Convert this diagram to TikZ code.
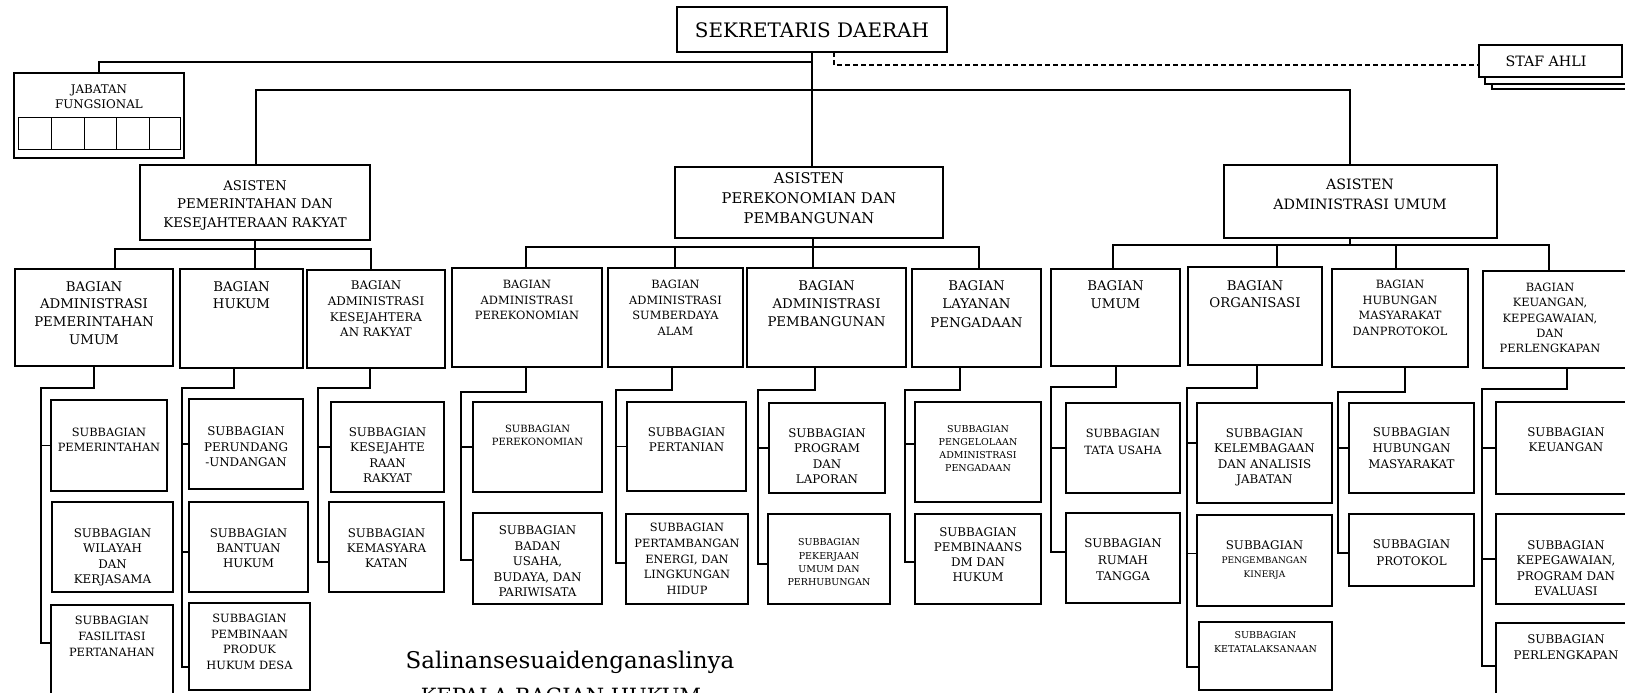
\documentclass[tikz,border=0pt]{standalone}
\usepackage{fontspec}
\setmainfont{DejaVu Serif}
\tikzset{
  bx/.style={draw, line width=1.6pt, rectangle, inner sep=0pt, outer sep=0pt},
  ln/.style={line width=1.6pt, line join=miter},
  dsh/.style={line width=1.2pt, dash pattern=on 5pt off 3pt},
  tx/.style={align=center, inner sep=0pt, anchor=north},
  cell/.style={line width=1pt},
}
\newcommand\mybox[5]{\node[bx, minimum width={(#4-#2)*1pt}, minimum height={(#5-#3)*1pt}] (#1) at ({(#2+#4)/2},{(#3+#5)/2}) {};}
\newcommand\mytext[6]{\pgfmathsetmacro\myfs{#4*0.95}\pgfmathsetmacro\myty{#3-0.365*\myfs}\node[tx,font=\fontsize{\myfs}{#5}\selectfont] (#1) at (#2,\myty) {#6};}
\newcommand\myspine[6]{%
  \coordinate (#1-k) at (#2,#3); \coordinate (#1-s) at (#4,#3); \coordinate (#1-e) at (#4,#6);
  \draw[ln] (#1-k |- #1.south) -- (#1-k) -- (#1-s) -- (#1-e) -- (#5.west |- #1-e);}
\newcommand\mytick[2]{\draw[ln] (#2.west) -- (#2.west -| #1-s);}
\begin{document}
\begin{tikzpicture}[x=1pt,y=-1pt]
\useasboundingbox (0,0) rectangle (1625,693);
\fill[white] (0,0) rectangle (1625,693);

% ---------- top level
\mybox{sek}{677}{7}{947}{52}
\mytext{sekt}{812}{30}{21}{22}{SEKRETARIS DAERAH}
\mybox{staf}{1479}{45}{1622}{77}
\mytext{staft}{1546}{61}{15}{17}{STAF AHLI}
\draw[ln] (1485,77) -- (1485,84) -- (1640,84);
\draw[ln] (1492,84) -- (1492,89) -- (1640,89);

\mybox{jab}{14}{73}{184}{158}
\mytext{jabt}{99}{89}{12.5}{15}{JABATAN\\FUNGSIONAL}
\draw[cell] (18,117) rectangle (180,149);
\foreach \cx in {51,84,116,149} \draw[cell] (\cx,117) -- (\cx,149);

\mybox{asP}{140}{165}{370}{240}
\mytext{asPt}{255}{185}{14}{18.5}{ASISTEN\\PEMERINTAHAN DAN\\KESEJAHTERAAN RAKYAT}
\mybox{asE}{675}{167}{943}{238}
\mytext{asEt}{809}{178}{15.5}{20}{ASISTEN\\PEREKONOMIAN DAN\\PEMBANGUNAN}
\mybox{asA}{1224}{165}{1497}{238}
\mytext{asAt}{1360}{184}{15}{20}{ASISTEN\\ADMINISTRASI UMUM}

% top connectors
\coordinate (trunk) at (812,62);
\draw[ln] (jab.north) -- (jab.north |- trunk) -- (trunk);
\draw[ln] (trunk |- sek.south) -- (trunk |- asE.north);
\coordinate (aL) at (256,90); \coordinate (aR) at (1350,90);
\draw[ln] (aL |- asP.north) -- (aL) -- (aR) -- (aR |- asA.north);
\coordinate (dsA) at (834,65);
\draw[dsh] (dsA |- sek.south) -- (dsA) -- (dsA -| staf.west);

% ---------- bagian row
\mybox{bL1}{15}{269}{173}{366}
\mytext{bL1t}{94}{286}{14}{17.7}{BAGIAN\\ADMINISTRASI\\PEMERINTAHAN\\UMUM}
\mybox{bL2}{180}{269}{303}{368}
\mytext{bL2t}{241.5}{286}{14}{17}{BAGIAN\\HUKUM}
\mybox{bL3}{307}{270}{445}{368}
\mytext{bL3t}{376}{285}{12.5}{15.7}{BAGIAN\\ADMINISTRASI\\KESEJAHTERA\\AN RAKYAT}

\mybox{bM1}{452}{268}{602}{367}
\mytext{bM1t}{527}{284}{12}{15.5}{BAGIAN\\ADMINISTRASI\\PEREKONOMIAN}
\mybox{bM2}{608}{268}{743}{367}
\mytext{bM2t}{675.5}{284}{12}{15.7}{BAGIAN\\ADMINISTRASI\\SUMBERDAYA\\ALAM}
\mybox{bM3}{747}{268}{906}{367}
\mytext{bM3t}{826.5}{285}{14}{18}{BAGIAN\\ADMINISTRASI\\PEMBANGUNAN}
\mybox{bM4}{912}{269}{1041}{367}
\mytext{bM4t}{976.5}{285}{14}{18.5}{BAGIAN\\LAYANAN\\PENGADAAN}

\mybox{bR1}{1051}{269}{1180}{366}
\mytext{bR1t}{1115.5}{285}{14}{18}{BAGIAN\\UMUM}
\mybox{bR2}{1188}{267}{1322}{365}
\mytext{bR2t}{1255}{285}{14}{17}{BAGIAN\\ORGANISASI}
\mybox{bR3}{1332}{269}{1468}{367}
\mytext{bR3t}{1400}{284}{12}{15.7}{BAGIAN\\HUBUNGAN\\MASYARAKAT\\DANPROTOKOL}
\mybox{bR4}{1483}{271}{1640}{368}
\mytext{bR4t}{1550}{287}{12}{15.3}{BAGIAN\\KEUANGAN,\\KEPEGAWAIAN,\\DAN\\PERLENGKAPAN}

% bus connectors
\coordinate (bl1) at (115,249); \coordinate (bl2) at (255,249); \coordinate (bl3) at (371,249);
\draw[ln] (bl1 |- bL1.north) -- (bl1) -- (bl3) -- (bl3 |- bL3.north);
\draw[ln] (bl2 |- asP.south) -- (bl2 |- bL2.north);
\coordinate (bm1) at (526,247); \coordinate (bm2) at (675,247); \coordinate (bm3) at (813,247); \coordinate (bm4) at (979,247);
\draw[ln] (bm1 |- bM1.north) -- (bm1) -- (bm4) -- (bm4 |- bM4.north);
\draw[ln] (bm2) -- (bm2 |- bM2.north);
\draw[ln] (bm3 |- asE.south) -- (bm3 |- bM3.north);
\coordinate (br1) at (1113,245); \coordinate (br2) at (1277,245); \coordinate (br3) at (1396,245); \coordinate (br4) at (1549,245); \coordinate (bra) at (1350,245);
\draw[ln] (br1 |- bR1.north) -- (br1) -- (br4) -- (br4 |- bR4.north);
\draw[ln] (br2) -- (br2 |- bR2.north);
\draw[ln] (br3) -- (br3 |- bR3.north);
\draw[ln] (bra |- asA.south) -- (bra);

% ---------- subbagian boxes
\mybox{sL1a}{51}{400}{167}{491}
\mytext{sL1at}{109}{432}{12}{15}{SUBBAGIAN\\PEMERINTAHAN}
\mybox{sL1b}{52}{502}{173}{592}
\mytext{sL1bt}{112.5}{533}{12.5}{15.3}{SUBBAGIAN\\WILAYAH\\DAN\\KERJASAMA}
\mybox{sL1c}{51}{605}{173}{710}
\mytext{sL1ct}{112}{620}{12}{16}{SUBBAGIAN\\FASILITASI\\PERTANAHAN}

\mybox{sL2a}{189}{399}{303}{489}
\mytext{sL2at}{246}{431}{12.5}{15.5}{SUBBAGIAN\\PERUNDANG\\-UNDANGAN}
\mybox{sL2b}{189}{502}{308}{592}
\mytext{sL2bt}{248.5}{533}{12.5}{15}{SUBBAGIAN\\BANTUAN\\HUKUM}
\mybox{sL2c}{189}{603}{310}{690}
\mytext{sL2ct}{249.5}{618}{12}{15.7}{SUBBAGIAN\\PEMBINAAN\\PRODUK\\HUKUM DESA}

\mybox{sL3a}{331}{402}{444}{492}
\mytext{sL3at}{387.5}{432}{12.5}{15.3}{SUBBAGIAN\\KESEJAHTE\\RAAN\\RAKYAT}
\mybox{sL3b}{329}{502}{444}{592}
\mytext{sL3bt}{386.5}{533}{12.5}{15}{SUBBAGIAN\\KEMASYARA\\KATAN}

\mybox{sM1a}{473}{402}{602}{492}
\mytext{sM1at}{537.5}{429}{10.5}{13}{SUBBAGIAN\\PEREKONOMIAN}
\mybox{sM1b}{473}{513}{602}{604}
\mytext{sM1bt}{537.5}{530}{12.5}{15.5}{SUBBAGIAN\\BADAN\\USAHA,\\BUDAYA, DAN\\PARIWISATA}
\mybox{sM2a}{627}{402}{746}{491}
\mytext{sM2at}{686.5}{432}{12.5}{15}{SUBBAGIAN\\PERTANIAN}
\mybox{sM2b}{626}{514}{748}{604}
\mytext{sM2bt}{687}{527}{12}{15.75}{SUBBAGIAN\\PERTAMBANGAN\\ENERGI, DAN\\LINGKUNGAN\\HIDUP}
\mybox{sM3a}{769}{403}{885}{493}
\mytext{sM3at}{827}{433}{12.5}{15.3}{SUBBAGIAN\\PROGRAM\\DAN\\LAPORAN}
\mybox{sM3b}{768}{514}{890}{604}
\mytext{sM3bt}{829}{542}{10}{13.3}{SUBBAGIAN\\PEKERJAAN\\UMUM DAN\\PERHUBUNGAN}
\mybox{sM4a}{915}{402}{1041}{502}
\mytext{sM4at}{978}{429}{10}{13}{SUBBAGIAN\\PENGELOLAAN\\ADMINISTRASI\\PENGADAAN}
\mybox{sM4b}{915}{514}{1041}{604}
\mytext{sM4bt}{978}{532}{12.5}{15}{SUBBAGIAN\\PEMBINAANS\\DM DAN\\HUKUM}

\mybox{sR1a}{1066}{403}{1180}{493}
\mytext{sR1at}{1123}{433}{12}{17}{SUBBAGIAN\\TATA USAHA}
\mybox{sR1b}{1066}{513}{1180}{603}
\mytext{sR1bt}{1123}{543}{12.5}{16.5}{SUBBAGIAN\\RUMAH\\TANGGA}
\mybox{sR2a}{1197}{403}{1332}{503}
\mytext{sR2at}{1264.5}{433}{12.5}{15.3}{SUBBAGIAN\\KELEMBAGAAN\\DAN ANALISIS\\JABATAN}
\mybox{sR2b}{1197}{515}{1332}{606}
\mytext{sR2bt}{1264.5}{545}{12.5}{14}{SUBBAGIAN\\{\fontsize{9}{13}\selectfont PENGEMBANGAN}\\{\fontsize{9}{13}\selectfont KINERJA}}
\mybox{sR2c}{1199}{622}{1332}{690}
\mytext{sR2ct}{1265.5}{635}{10}{14}{SUBBAGIAN\\KETATALAKSANAAN}
\mybox{sR3a}{1349}{403}{1474}{493}
\mytext{sR3at}{1411.5}{432}{12.5}{16}{SUBBAGIAN\\HUBUNGAN\\MASYARAKAT}
\mybox{sR3b}{1349}{514}{1474}{586}
\mytext{sR3bt}{1411.5}{544}{12.5}{17}{SUBBAGIAN\\PROTOKOL}
\mybox{sR4a}{1496}{402}{1640}{494}
\mytext{sR4at}{1566}{432}{12.5}{15}{SUBBAGIAN\\KEUANGAN}
\mybox{sR4b}{1496}{514}{1640}{604}
\mytext{sR4bt}{1566}{545}{12.5}{15.3}{SUBBAGIAN\\KEPEGAWAIAN,\\PROGRAM DAN\\EVALUASI}
\mybox{sR4c}{1496}{623}{1640}{710}
\mytext{sR4ct}{1566}{639}{12.5}{16}{SUBBAGIAN\\PERLENGKAPAN}

% ---------- spines
\myspine{bL1}{94}{388}{41}{sL1c}{643}
\mytick{bL1}{sL1a}
\myspine{bL2}{234}{388}{182}{sL2c}{667}
\mytick{bL2}{sL2a}
\draw[ln] ([yshift=-5pt]sL2b.west) -- ([yshift=-5pt]sL2b.west -| bL2-s);
\myspine{bL3}{370}{388}{318}{sL3b}{562}
\mytick{bL3}{sL3a}

\myspine{bM1}{526}{392}{461}{sM1b}{560}
\mytick{bM1}{sM1a}
\myspine{bM2}{672}{390}{616}{sM2b}{563}
\mytick{bM2}{sM2a}
\myspine{bM3}{815}{390}{758}{sM3b}{564}
\mytick{bM3}{sM3a}
\myspine{bM4}{960}{390}{905}{sM4b}{562}
\draw[ln] ([yshift=8pt]sM4a.west) -- ([yshift=8pt]sM4a.west -| bM4-s);

\myspine{bR1}{1116}{387}{1051}{sR1b}{552}
\mytick{bR1}{sR1a}
\myspine{bR2}{1257}{388}{1187}{sR2c}{667}
\draw[ln] ([yshift=10pt]sR2a.west) -- ([yshift=10pt]sR2a.west -| bR2-s);
\draw[ln] ([yshift=7pt]sR2b.west) -- ([yshift=7pt]sR2b.west -| bR2-s);
\myspine{bR3}{1405}{392}{1338}{sR3b}{553}
\mytick{bR3}{sR3a}
\myspine{bR4}{1567}{389}{1482}{sR4c}{666}
\mytick{bR4}{sR4a}
\mytick{bR4}{sR4b}

% ---------- bottom note
\node[anchor=base, inner sep=0pt, font=\fontsize{23}{25}\selectfont] (sal) at (570,668) {Salinansesuaidenganaslinya};
\node[anchor=base, inner sep=0pt, font=\fontsize{21}{23}\selectfont] (kep) at (561,703) {KEPALA BAGIAN HUKUM};
\end{tikzpicture}
\end{document}
